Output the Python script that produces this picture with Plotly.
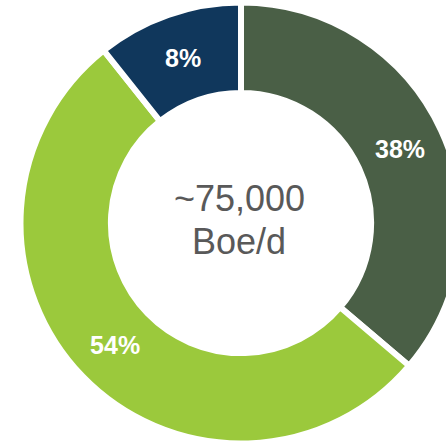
import plotly.graph_objects as go

# Data
segments = ["Segment A", "Segment B", "Segment C"]
shares = [36.2, 53.1, 10.7]          # drawn slice sizes (as measured)
share_labels = ["38%", "54%", "8%"]   # printed labels
colors = ["#4A5F46", "#9BC93C", "#10375C"]
center_lines = ["~75,000", "Boe/d"]

W, H = 480, 446
fig = go.Figure(
    go.Pie(
        labels=segments,
        values=shares,
        text=share_labels,
        textinfo="text",
        textposition="inside",
        insidetextorientation="horizontal",
        textfont=dict(family="Liberation Sans, Arial", size=25, color="white", weight="bold"),
        marker=dict(colors=colors, line=dict(color="white", width=6)),
        hole=0.59,
        sort=False,
        direction="clockwise",
        rotation=0,
        hoverinfo="skip",
        domain=dict(x=[20.5 / W, 461.5 / W], y=[1 - 443.5 / H, 1 - 2.5 / H]),
    )
)

fig.add_annotation(x=239 / W, y=1 - 198.9 / H, xref="paper", yref="paper",
                   text=center_lines[0], showarrow=False, xanchor="center", yanchor="middle",
                   font=dict(family="Liberation Sans, Arial", size=36, color="#595959"))
fig.add_annotation(x=239 / W, y=1 - 241.2 / H, xref="paper", yref="paper",
                   text=center_lines[1], showarrow=False, xanchor="center", yanchor="middle",
                   font=dict(family="Liberation Sans, Arial", size=36, color="#595959"))

fig.update_layout(
    width=W, height=H,
    margin=dict(l=0, r=0, t=0, b=0),
    showlegend=False,
    paper_bgcolor="white",
    plot_bgcolor="white",
)

fig.write_html(
    "out.html",
    config={"displayModeBar": False},
    post_script="document.body.style.margin='0';document.body.style.overflow='hidden';document.documentElement.style.overflow='hidden';",
)
